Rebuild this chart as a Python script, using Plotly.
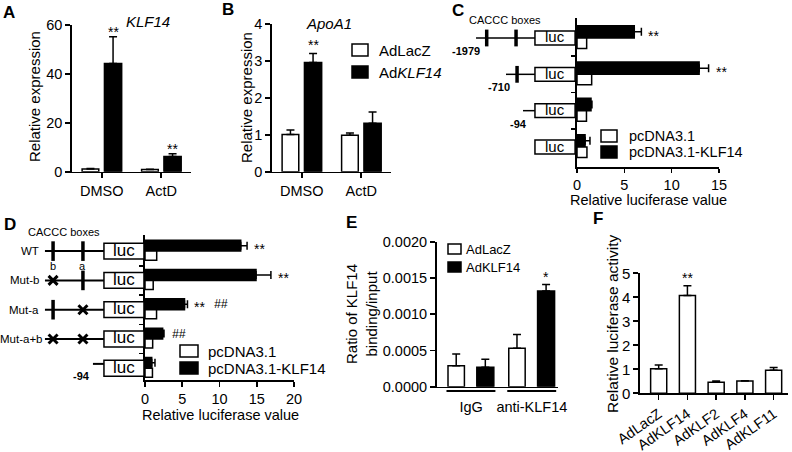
import plotly.graph_objects as go

W, H = 792, 452
FONT = "Liberation Sans, Arial, Helvetica, sans-serif"


def X(px):
    return px / W


def Y(py):
    return 1 - py / H


# ---------------- data ----------------
# Panel A: KLF14 expression
a_groups = ["DMSO", "ActD"]
a_lacz = [1.1, 0.9]
a_lacz_err = [0.2, 0.15]
a_klf = [44.3, 6.2]
a_klf_err = [10.9, 1.1]
a_stars = ["**", "**"]

# Panel B: ApoA1 expression
b_groups = ["DMSO", "ActD"]
b_lacz = [1.01, 0.99]
b_lacz_err = [0.12, 0.06]
b_klf = [2.96, 1.31]
b_klf_err = [0.24, 0.31]
b_stars = ["**", ""]

# Panel C: promoter deletion luciferase
c_constructs = ["-1979", "-710", "-94", ""]
c_pc = [1.02, 1.55, 1.0, 1.05]
c_klf = [6.05, 12.9, 1.48, 0.85]
c_klf_err = [0.75, 1.0, 0.1, 0.52]
c_stars = ["**", "**", "", ""]
# schematic (not to scale) positions of construct start and CACCC boxes
c_line_start = [0.205, 0.441, 0.575, None]
c_sites = [[0.289, 0.52], [0.528], [], []]

# Panel D: CACCC mutants
d_constructs = ["WT", "Mut-b", "Mut-a", "Mut-a+b", "-94"]
d_pc = [1.57, 1.1, 1.55, 1.03, 1.0]
d_klf = [12.85, 14.9, 5.3, 2.37, 0.9]
d_klf_err = [0.85, 2.0, 0.4, 0.18, 0.44]
d_stars = ["**", "**", "**", "", ""]
d_hash = ["", "", "##", "##", ""]
d_line_start = [0.31, 0.31, 0.31, 0.31, 0.641]
d_site_pos = [0.366, 0.572]          # site b, site a
d_site_names = ["b", "a"]
d_site_state = [[1, 1], [0, 1], [1, 0], [0, 0], []]   # 1 intact, 0 mutated

# Panel E: ChIP
e_groups = ["IgG", "anti-KLF14"]
e_lacz = [0.00029, 0.00053]
e_lacz_err = [0.00016, 0.00019]
e_klf = [0.00027, 0.00132]
e_klf_err = [0.00011, 0.00009]
e_stars = ["", "*"]

# Panel F: KLF family luciferase
f_groups = ["AdLacZ", "AdKLF14", "AdKLF2", "AdKLF4", "AdKLF11"]
f_vals = [1.02, 4.07, 0.46, 0.51, 0.96]
f_err = [0.16, 0.41, 0.05, 0.01, 0.11]
f_stars = ["", "**", "", "", ""]

# ---------------- figure ----------------
fig = go.Figure()
ann = []
shapes = []


def bar_style(fill):
    return dict(color=fill, line=dict(color="black", width=1.5))


def err(arr):
    return dict(type="data", array=arr, arrayminus=[0] * len(arr), symmetric=False,
                color="black", thickness=1.5, width=4)


def vbar(y, e, xa, ya, fill, offset, width):
    idx = list(range(len(y)))
    fig.add_trace(go.Bar(x=idx, y=y, xaxis=xa, yaxis=ya, offset=offset, width=width,
                         marker=bar_style(fill), error_y=err(e) if e else None,
                         showlegend=False, hoverinfo="skip"))


def hbar(x, e, xa, ya, fill, offset, width):
    idx = list(range(len(x)))
    fig.add_trace(go.Bar(y=idx, x=x, orientation="h", xaxis=xa, yaxis=ya, offset=offset,
                         width=width, marker=bar_style(fill),
                         error_x=err(e) if e else None,
                         showlegend=False, hoverinfo="skip"))


def text(x, y, t, size=14.5, xref="paper", yref="paper", xanchor="center", yanchor="middle",
         bold=False, italic=False, angle=0, xshift=0, yshift=0):
    if bold:
        t = "<b>" + t + "</b>"
    if italic:
        t = "<i>" + t + "</i>"
    ann.append(dict(x=x, y=y, xref=xref, yref=yref, text=t, showarrow=False,
                    xanchor=xanchor, yanchor=yanchor, textangle=angle,
                    xshift=xshift, yshift=yshift,
                    font=dict(family=FONT, size=size, color="black")))


def legend_box(x0, x1, y0, y1, fill):
    shapes.append(dict(type="rect", xref="paper", yref="paper", x0=X(x0), x1=X(x1),
                       y0=Y(y1), y1=Y(y0), fillcolor=fill,
                       line=dict(color="black", width=1.5)))


# A
VW_OFF, VW_W, VB_OFF, VB_W = -0.33, 0.28, 0.045, 0.29
vbar(a_lacz, a_lacz_err, "x", "y", "white", VW_OFF, VW_W)
vbar(a_klf, a_klf_err, "x", "y", "black", VB_OFF, VB_W)
for i, s in enumerate(a_stars):
    if s:
        text(i + VB_OFF + VB_W / 2, a_klf[i] + a_klf_err[i], s, 14, "x", "y",
             yanchor="bottom", yshift=-5)

# B
vbar(b_lacz, b_lacz_err, "x2", "y2", "white", VW_OFF, VW_W)
vbar(b_klf, b_klf_err, "x2", "y2", "black", VB_OFF, VB_W)
for i, s in enumerate(b_stars):
    if s:
        text(i + VB_OFF + VB_W / 2, b_klf[i] + b_klf_err[i], s, 14, "x2", "y2",
             yanchor="bottom", yshift=-1)

# C bars
hbar(c_klf, c_klf_err, "x3", "y3", "black", -0.34, 0.34)
hbar(c_pc, None, "x3", "y3", "white", 0.0, 0.29)
for i, s in enumerate(c_stars):
    if s:
        text(c_klf[i] + c_klf_err[i], i - 0.17, s, 14, "x3", "y3", xanchor="left",
             xshift=5, yshift=-4)

# C schematic
C_BOX = (0.669, 0.985)
for i, start in enumerate(c_line_start):
    if start is not None:
        shapes.append(dict(type="line", xref="x7", yref="y3", x0=start, x1=C_BOX[0], y0=i, y1=i,
                           line=dict(color="black", width=1.5)))
        text(start, i, c_constructs[i], 11, "x7", "y3", xanchor="right", bold=True,
             xshift=6, yshift=-13)
    shapes.append(dict(type="rect", xref="x7", yref="y3", x0=C_BOX[0], x1=C_BOX[1],
                       y0=i - 0.19, y1=i + 0.19, fillcolor="white",
                       line=dict(color="black", width=1.5), layer="above"))
    text((C_BOX[0] + C_BOX[1]) / 2, i, "luc", 15, "x7", "y3", yshift=1)
cx, cy = [], []
for i, sites in enumerate(c_sites):
    for s in sites:
        cx.append(s)
        cy.append(i)
fig.add_trace(go.Scatter(x=cx, y=cy, xaxis="x7", yaxis="y3", mode="markers",
                         marker=dict(symbol="line-ns", size=12,
                                     line=dict(color="black", width=3.5)),
                         showlegend=False, hoverinfo="skip"))

# D bars
hbar(d_klf, d_klf_err, "x4", "y4", "black", -0.37, 0.37)
hbar(d_pc, None, "x4", "y4", "white", 0.0, 0.31)
for i in range(len(d_constructs)):
    end = d_klf[i] + d_klf_err[i]
    if d_stars[i]:
        text(end, i - 0.185, d_stars[i], 14, "x4", "y4", xanchor="left", xshift=5, yshift=-3)
    if d_hash[i]:
        text(end, i - 0.185, d_hash[i], 12, "x4", "y4", xanchor="left",
             xshift=25 if d_stars[i] else 6, italic=True, yshift=0)

# D schematic
D_BOX = (0.717, 0.993)
mx, my, sx, sy = [], [], [], []
for i, start in enumerate(d_line_start):
    ly = i if d_site_state[i] else i - 0.15
    shapes.append(dict(type="line", xref="x8", yref="y4", x0=start, x1=D_BOX[0], y0=ly, y1=ly,
                       line=dict(color="black", width=2)))
    shapes.append(dict(type="rect", xref="x8", yref="y4", x0=D_BOX[0], x1=D_BOX[1],
                       y0=i - 0.27, y1=i + 0.27, fillcolor="white",
                       line=dict(color="black", width=1.5), layer="above"))
    text((D_BOX[0] + D_BOX[1]) / 2, i, "luc", 17, "x8", "y4", yshift=1)
    if d_site_state[i]:
        long_label = len(d_constructs[i]) > 5
        text(start, i, d_constructs[i], 11.5, "x8", "y4", xanchor="right",
             xshift=0 if long_label else -4)
        for pos, st in zip(d_site_pos, d_site_state[i]):
            if st:
                sx.append(pos)
                sy.append(i)
            else:
                mx.append(pos)
                my.append(i)
    else:
        text(start, i, d_constructs[i], 11, "x8", "y4", xanchor="right", bold=True,
             xshift=-1, yshift=-8)
for pos, nm in zip(d_site_pos, d_site_names):
    text(pos, 0, nm, 11, "x8", "y4", yshift=-15)
fig.add_trace(go.Scatter(x=sx, y=sy, xaxis="x8", yaxis="y4", mode="markers",
                         marker=dict(symbol="line-ns", size=14,
                                     line=dict(color="black", width=3.5)),
                         showlegend=False, hoverinfo="skip"))
fig.add_trace(go.Scatter(x=mx, y=my, xaxis="x8", yaxis="y4", mode="markers",
                         marker=dict(symbol="x-thin", size=9,
                                     line=dict(color="black", width=3)),
                         showlegend=False, hoverinfo="skip"))

# E
vbar(e_lacz, e_lacz_err, "x5", "y5", "white", -0.38, 0.27)
vbar(e_klf, e_klf_err, "x5", "y5", "black", 0.094, 0.28)
for i, s in enumerate(e_stars):
    if s:
        text(i + 0.094 + 0.14, e_klf[i] + e_klf_err[i], s, 14, "x5", "y5",
             yanchor="bottom", yshift=-3)
for i in range(len(e_groups)):
    shapes.append(dict(type="line", xref="x5", yref="paper", x0=i - 0.405, x1=i + 0.40,
                       y0=Y(391), y1=Y(391), line=dict(color="black", width=2)))

# F
fig.add_trace(go.Bar(x=list(range(len(f_groups))), y=f_vals, xaxis="x6", yaxis="y6",
                     offset=-0.28, width=0.56, marker=bar_style("white"),
                     error_y=err(f_err), showlegend=False, hoverinfo="skip"))
for i, s in enumerate(f_stars):
    if s:
        text(i, f_vals[i] + f_err[i], s, 14, "x6", "y6", yanchor="bottom", yshift=-2)

# ---------------- text / legends ----------------
for lt, px, py in [("A", 9, 12), ("B", 227.5, 9.5), ("C", 457.5, 10),
                   ("D", 10, 225), ("E", 351, 222), ("F", 597.5, 218)]:
    text(X(px), Y(py), lt, 17, bold=True)

text(X(148), Y(22), "KLF14", 15, italic=True)
text(X(329), Y(23), "ApoA1", 15, italic=True)
text(X(505), Y(20), "CACCC boxes", 11)
text(X(64), Y(232), "CACCC boxes", 11)

text(X(35), Y(97), "Relative expression", 15, angle=-90)
text(X(246), Y(98), "Relative expression", 15, angle=-90)
text(X(648), Y(200), "Relative luciferase value", 14.5)
text(X(220), Y(415), "Relative luciferase value", 14.5)
text(X(361), Y(314), "Ratio of KLF14<br>binding/input", 15, angle=-90)
text(X(612), Y(324), "Relative luciferase activity", 15.5, angle=-90)

# legend B
legend_box(352, 368, 44, 56, "white")
legend_box(352, 368, 66, 78, "black")
text(X(377), Y(50), "AdLacZ", 15, xanchor="left")
text(X(377), Y(72), "Ad<i>KLF14</i>", 15, xanchor="left")
# legend C
legend_box(601, 617, 130, 142, "white")
legend_box(601, 617, 146, 158, "black")
text(X(627), Y(136), "pcDNA3.1", 14.5, xanchor="left")
text(X(627), Y(152), "pcDNA3.1-KLF14", 14.5, xanchor="left")
# legend D
legend_box(180, 198, 345, 357, "white")
legend_box(180, 198, 362, 374, "black")
text(X(206), Y(351), "pcDNA3.1", 15, xanchor="left")
text(X(206), Y(368), "pcDNA3.1-KLF14", 15, xanchor="left")
# legend E
legend_box(448, 461, 244, 254, "white")
legend_box(448, 461, 262, 272, "black")
text(X(464), Y(249), "AdLacZ", 13, xanchor="left")
text(X(464), Y(267), "AdKLF14", 13, xanchor="left")

# ---------------- axes ----------------
tf = dict(family=FONT, size=14.5, color="black")


def ax(**kw):
    d = dict(showline=True, linecolor="black", linewidth=1.7, ticks="outside", ticklen=5,
             tickwidth=1.6, tickcolor="black", showgrid=False, zeroline=False,
             tickfont=tf, fixedrange=True, automargin=False)
    d.update(kw)
    return d


layout_axes = dict(
    xaxis=ax(domain=[X(72), X(191)], range=[-0.5, 1.5], tickvals=[0, 1], ticktext=a_groups,
             anchor="y"),
    yaxis=ax(domain=[Y(171.7), Y(25)], range=[0, 60], dtick=20, anchor="x"),
    xaxis2=ax(domain=[X(272), X(391)], range=[-0.5, 1.5], tickvals=[0, 1], ticktext=b_groups,
              anchor="y2"),
    yaxis2=ax(domain=[Y(171.7), Y(24)], range=[0, 4], dtick=1, anchor="x2"),
    xaxis3=ax(domain=[X(577), X(719)], range=[0, 15], dtick=5, anchor="y3", ticklen=4),
    yaxis3=ax(domain=[Y(167), Y(18)], range=[3.55, -0.55], tickvals=[0.5, 1.5, 2.5],
              showticklabels=False, ticklen=4, anchor="x3"),
    xaxis4=ax(domain=[X(145), X(294)], range=[0, 20], dtick=5, anchor="y4"),
    yaxis4=ax(domain=[Y(380), Y(235)], range=[4.4, -0.55], tickvals=[0.5, 1.5, 2.5, 3.5],
              showticklabels=False, ticklen=4, anchor="x4"),
    xaxis5=ax(domain=[X(436.7), X(558)], range=[-0.566, 1.43], tickvals=[0, 1],
              ticktext=e_groups, ticklen=6, tickcolor="rgba(0,0,0,0)", anchor="y5"),
    yaxis5=ax(domain=[Y(386.7), Y(241.7)], range=[0, 0.002], dtick=0.0005, tickformat=".4f",
              anchor="x5"),
    xaxis6=ax(domain=[X(640), X(788)], range=[-0.65, 4.5], tickvals=list(range(len(f_groups))),
              ticktext=f_groups, tickangle=-35, anchor="y6",
              tickfont=dict(family=FONT, size=14.5, color="black")),
    yaxis6=ax(domain=[Y(393.3), Y(273.3)], range=[0, 5], dtick=1, anchor="x6",
              tickfont=dict(family=FONT, size=15, color="black")),
    xaxis7=dict(domain=[X(450), X(577)], range=[0, 1], anchor="y3", visible=False,
                fixedrange=True, automargin=False),
    xaxis8=dict(domain=[X(0), X(145)], range=[0, 1], anchor="y4", visible=False,
                fixedrange=True, automargin=False),
)

fig.update_layout(
    width=W, height=H, margin=dict(l=0, r=0, t=0, b=0, autoexpand=False),
    paper_bgcolor="white", plot_bgcolor="white",
    barmode="overlay", showlegend=False,
    font=dict(family=FONT, color="black"),
    annotations=ann, shapes=shapes,
    **layout_axes,
)

fig.write_html("out.html", config={"staticPlot": True},
               post_script="document.body.style.margin='0';document.body.style.padding='0';")
